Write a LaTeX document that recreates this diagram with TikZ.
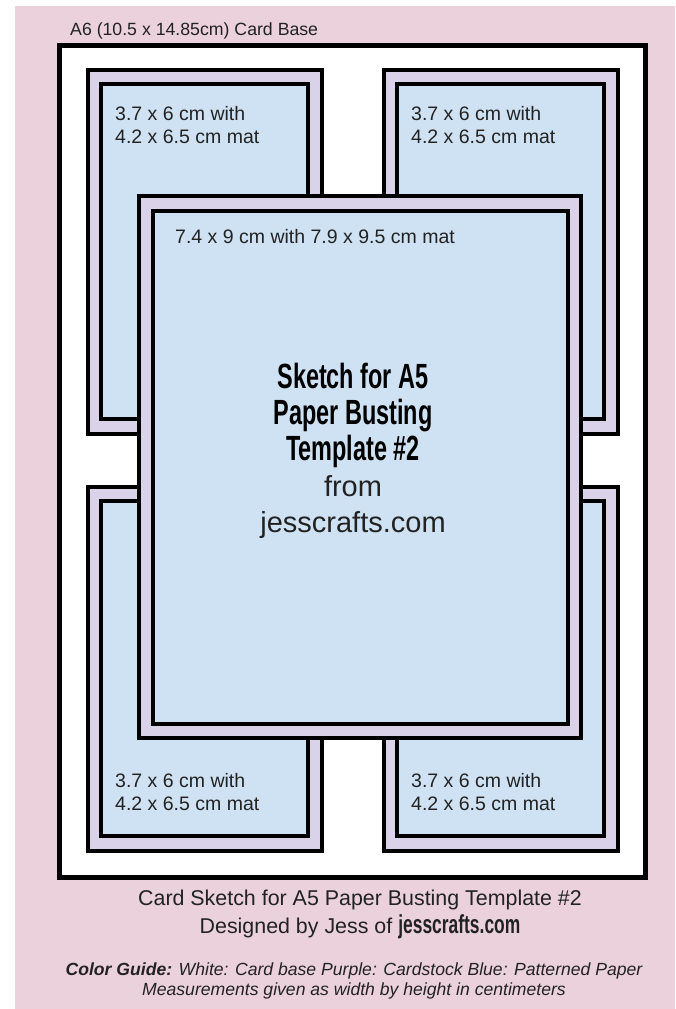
\documentclass[tikz,border=0pt]{standalone}
\usepackage{fontspec}
\setmainfont{Liberation Sans}
\newfontfamily\titlefont[FakeStretch=0.67]{Liberation Sans}
\usetikzlibrary{shadows}
\definecolor{pinkbg}{HTML}{EAD1DC}
\definecolor{matpurple}{HTML}{D9D2E9}
\definecolor{paperblue}{HTML}{CFE2F3}
\definecolor{inkgray}{HTML}{222222}
\tikzset{
  shade off/.style={drop shadow={shadow xshift=1.5pt,shadow yshift=-1.5pt,opacity=0.3,fill=black}},
  cardbase/.style={draw=black,fill=white,line width=5pt,shade off},
  mat/.style={draw=black,fill=matpurple,line width=4.5pt,shade off},
  paper/.style={draw=black,fill=paperblue,line width=4.5pt},
  sizelabel/.style={inner sep=0pt,anchor=base west,text=inkgray,font=\fontsize{19.5}{22}\selectfont},
  titleline/.style={inner sep=0pt,anchor=base,text=black,font=\titlefont\bfseries\fontsize{35}{38}\selectfont},
  siteline/.style={inner sep=0pt,anchor=base,text=inkgray,font=\fontsize{29}{34}\selectfont},
  caption/.style={inner sep=0pt,anchor=base,text=inkgray,font=\fontsize{21.4}{25}\selectfont},
  guide/.style={inner sep=0pt,anchor=base,text=inkgray,font=\itshape\fontsize{17.6}{20}\selectfont}
}
\begin{document}
\begin{tikzpicture}[x=1pt,y=-1pt]
\useasboundingbox (0,0) rectangle (675,1009);
\fill[white] (0,0) rectangle (675,1009);
\fill[pinkbg] (15,6) rectangle (675,1009);
% card base
\node[inner sep=0pt,anchor=base west,text=inkgray,font=\fontsize{17.7}{20}\selectfont] (basetitle) at (70,35) {A6 (10.5 x 14.85cm) Card Base};
\draw[cardbase] (59.5,45.5) rectangle (645.5,877.5);
% four small mats
\foreach \mx/\my/\ly/\nm in {88/70/120/tl, 384/70/120/tr, 88/487/787/bl, 384/487/787/br} {
  \draw[mat] (\mx,\my) rectangle ++(234,364);
  \draw[paper] (\mx+13,\my+14) rectangle ++(207,335);
  \node[sizelabel] (\nm-a) at (\mx+27,\ly) {3.7 x 6 cm with};
  \node[sizelabel] (\nm-b) at (\mx+27,\ly+23) {4.2 x 6.5 cm mat};
}
% centre mat
\draw[mat] (139,196) rectangle (581,738);
\draw[paper] (153,211) rectangle (568,724);
\node[sizelabel] (centrelabel) at (175,243) {7.4 x 9 cm with 7.9 x 9.5 cm mat};
\node[titleline] (title1) at (353,388) {Sketch for A5};
\node[titleline] (title2) at (353,424) {Paper Busting};
\node[titleline] (title3) at (353,460) {Template \#2};
\node[siteline] (from) at (353,496) {from};
\node[siteline] (site) at (353,532) {jesscrafts.com};
% captions
\node[caption] (cap1) at (360,905) {Card Sketch for A5 Paper Busting Template \#2};
\node[caption] (cap2) at (360,933) {Designed by Jess of {\titlefont\bfseries\fontsize{26}{28}\selectfont jesscrafts.com}};
\node[guide] (guide1) at (354,975) {\textbf{Color Guide:} White: Card base Purple: Cardstock Blue: Patterned Paper};
\node[guide] (guide2) at (354,995) {Measurements given as width by height in centimeters};
\end{tikzpicture}
\end{document}
